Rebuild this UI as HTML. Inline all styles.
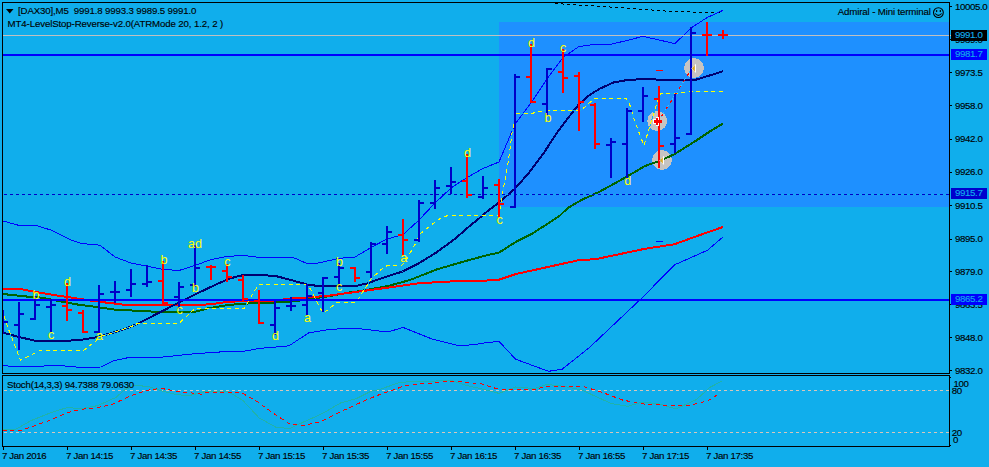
<!DOCTYPE html>
<html><head><meta charset="utf-8"><title>DAX30 M5</title>
<style>
html,body{margin:0;padding:0;background:#10aeec;}
#c{position:relative;width:989px;height:467px;overflow:hidden;background:#10aeec;font-family:"Liberation Sans",sans-serif;}
.t{position:absolute;font-size:9.7px;line-height:10px;color:#000;white-space:nowrap;-webkit-text-stroke:0.13px currentColor;}
.y{position:absolute;font-size:12.6px;line-height:14px;color:#ffff00;white-space:nowrap;}
</style></head><body><div id="c">
<svg width="989" height="467" viewBox="0 0 989 467" shape-rendering="crispEdges" style="position:absolute;left:0;top:0">
<rect x="0" y="0" width="989" height="467" fill="#10aeec"/>
<rect x="499" y="22" width="450" height="185" fill="#1e90ff"/>
<polyline points="555,3.5 602.7,6.5 652,10 668.5,11.3 701.4,12.4 720,12.6" fill="none" stroke="#000" stroke-width="1" stroke-dasharray="3 3"/>
<circle cx="694" cy="68" r="9.9" fill="#c6c4c2"/>
<circle cx="657.2" cy="121" r="9.9" fill="#c6c4c2"/>
<circle cx="662" cy="160" r="9.9" fill="#c6c4c2"/>
<polyline points="3,221 19,225.4 36,225.4 52,230.4 70,239.7 82,243.6 100,245.2 115,257 131,263 147,266.3 163,269.3 179,270.5 195,265.5 211,259.5 227,256.5 243,255.3 256,257 292,257 307,263.5 315,263.5 323,262 339,258.3 355,257 371,247.5 387,239 403,234.7 419,220 435,203 451,188 467,177.5 483,168.5 499,162 515,124 531,103 547,79 563,57.5 579,46.5 595,44.3 611,44.2 627,40.5 643,36.3 659,40 675,43.6 691,28 707,17.6 723,10.3" fill="none" stroke="#0000ff" stroke-width="1" />
<polyline points="3,365.5 19,367 35,366.3 59,365.5 79.5,367.3 100.7,367 113.7,360.7 128,357.7 147,357.5 163,357 195,353.7 227,351.5 240,352 259,348.5 289,345.8 308.5,333 330.5,329.3 355,328.2 388,332 403,327.4 432,339 459,345.8 476,344.4 480,343.4 499,341.3 515.6,359.2 548.5,371.3 562,369.3 589.6,347.4 617,321.5 641.7,298.2 674.6,264.8 707.5,250.3 722.6,237.3" fill="none" stroke="#0000ff" stroke-width="1" />
<polyline points="3,294 13.7,295.2 27.4,296.6 41,297.6 60.3,301.4 76.7,304.4 96,306.9 116.5,309.9 128,310.3 147.4,311.4 165,312 194,312 207.7,308.4 227,305.2 243,303.7 274,302.6 295,301.2 330,296 349.6,292.5 360.6,291 388,286 410,280 436.7,269.4 469.6,259.9 488,255 499.2,252.5 515.6,242 532,233.8 559.5,216 567.7,208 581.4,200 593.7,194.5 600,191.4 613.7,184 627.4,176.3 645,166 659,161.2 674,154.4 696,140.7 709.6,131.6 723,123.5" fill="none" stroke="#006400" stroke-width="2" />
<polyline points="3,288.8 19.2,288.8 34.3,291.8 54.8,295.2 76.7,298.4 90,300.5 101.4,302 120,304.3 128,305 194,305.2 210,304.3 227,302 243,301 260,301 275,300.5 292,298.5 308.5,297.4 327.7,295.8 349.6,292.8 368,290.3 393.5,286.9 418,283.3 450,281.5 480,281 499.2,279.6 515.6,274.1 580,259.9 595,259.3 644.5,248.9 674.6,244.2 700,235 723,227" fill="none" stroke="#ff0000" stroke-width="2" />
<polyline points="3,332.6 19,337 35.6,340.8 67,340.8 83,339.5 96,337.4 112,333 128,327.8 136.4,324.4 179,302.5 195,294.5 216,284.5 229.6,278.6 240.6,275.6 248,274.8 260,275 275.6,276 291,280 307,284.5 316.7,285.8 356.5,285.8 368,283.2 376.4,280 402.5,271.5 417.6,264 436.7,252.3 456,238 469.6,226 482,216 488,210.7 499,202.5 514,189.5 528,174 544.4,152 556.7,133.2 569,116.8 578.7,104.4 589.6,94.9 600,88.6 613.7,82.4 627.4,80 645,79 660,79.7 696,79.7 709.6,75.5 723,71.2" fill="none" stroke="#000070" stroke-width="2" />
<polyline points="4,316 8,328 20.5,360.4 39.7,350.8 83.6,350.4 96,340.8 99,337 112,333 128,327.8 136.4,324.4 137,323.5 179,323.5 194.7,308.7 244,308.5 258.5,284.6 307,284.4 311,290 314.7,297 319.5,307.4 323.6,313 329,308.8 337,302.6 356.5,302.2 360.6,295 368,284 371,279 380.6,270 387.4,265.3 402.5,265 408,257 414.8,244.8 420.3,233.8 434,222.9 439.5,219 447.7,215.5 498.5,215.2 500.3,208 501.5,202 503,190.6 506.5,172.7 509.5,153 512,133 514,123.6 516.3,113.4 532,113.4 540,111.3 545.8,110.6 581.4,110 593.7,99 600,98.4 626,98.6 629.5,103.9 635,122 643.9,145.4 648,132.3 651.4,121 657.6,101 661,93.3 685,92.9 687.7,91.5 722.7,91.5" fill="none" stroke="#10aeec" stroke-width="1" />
<polyline points="4,316 8,328 20.5,360.4 39.7,350.8 83.6,350.4 96,340.8 99,337 112,333 128,327.8 136.4,324.4 137,323.5 179,323.5 194.7,308.7 244,308.5 258.5,284.6 307,284.4 311,290 314.7,297 319.5,307.4 323.6,313 329,308.8 337,302.6 356.5,302.2 360.6,295 368,284 371,279 380.6,270 387.4,265.3 402.5,265 408,257 414.8,244.8 420.3,233.8 434,222.9 439.5,219 447.7,215.5 498.5,215.2 500.3,208 501.5,202 503,190.6 506.5,172.7 509.5,153 512,133 514,123.6 516.3,113.4 532,113.4 540,111.3 545.8,110.6 581.4,110 593.7,99 600,98.4 626,98.6 629.5,103.9 635,122 643.9,145.4 648,132.3 651.4,121 657.6,101 661,93.3 685,92.9 687.7,91.5 722.7,91.5" fill="none" stroke="#ffff00" stroke-width="1" stroke-dasharray="4 3.5"/>
<line x1="661" y1="117" x2="690" y2="71.5" stroke="#30c0ff" stroke-width="1" stroke-dasharray="2 2"/>
<line x1="661.7" y1="116" x2="690" y2="71.5" stroke="#ff0000" stroke-width="1" stroke-dasharray="3 5"/>
<rect x="3" y="35" width="949" height="1" fill="#c0c0c0"/>
<rect x="3" y="54" width="946" height="2" fill="#0000ff"/>
<rect x="3" y="299" width="946" height="2" fill="#0000ff"/>
<line x1="3" y1="194.5" x2="949" y2="194.5" stroke="#10aeec" stroke-width="1"/>
<line x1="4" y1="194.5" x2="949" y2="194.5" stroke="#0000c8" stroke-width="1" stroke-dasharray="3 3"/>
<g fill="#0000c8"><rect x="3" y="310" width="1" height="24"/><rect x="4" y="321" width="4" height="2"/></g>
<g fill="#0000c8"><rect x="18" y="302" width="2" height="48"/><rect x="14" y="324" width="4" height="2"/><rect x="20" y="313" width="4" height="2"/></g>
<g fill="#0000c8"><rect x="34" y="296" width="2" height="24"/><rect x="30" y="318" width="4" height="2"/><rect x="36" y="304" width="4" height="2"/></g>
<g fill="#0000c8"><rect x="50" y="299" width="2" height="33"/><rect x="46" y="306" width="4" height="2"/><rect x="52" y="304" width="4" height="2"/></g>
<g fill="#ff0000"><rect x="66" y="283" width="2" height="38"/><rect x="62" y="305" width="4" height="2"/><rect x="68" y="309" width="4" height="2"/></g>
<g fill="#ff0000"><rect x="82" y="310" width="2" height="23"/><rect x="78" y="312" width="4" height="2"/><rect x="84" y="331" width="4" height="2"/></g>
<g fill="#0000c8"><rect x="98" y="285" width="2" height="48"/><rect x="94" y="331" width="4" height="2"/><rect x="100" y="293" width="4" height="2"/></g>
<g fill="#0000c8"><rect x="114" y="281" width="2" height="22"/><rect x="110" y="291" width="4" height="2"/><rect x="116" y="291" width="4" height="2"/></g>
<g fill="#0000c8"><rect x="130" y="269" width="2" height="28"/><rect x="126" y="289" width="4" height="2"/><rect x="132" y="283" width="4" height="2"/></g>
<g fill="#0000c8"><rect x="146" y="265" width="2" height="22"/><rect x="142" y="283" width="4" height="2"/><rect x="148" y="281" width="4" height="2"/></g>
<g fill="#ff0000"><rect x="162" y="261" width="2" height="45"/><rect x="158" y="280" width="4" height="2"/><rect x="164" y="302" width="4" height="2"/></g>
<g fill="#0000c8"><rect x="178" y="282" width="2" height="27"/><rect x="174" y="296" width="4" height="2"/><rect x="180" y="286" width="4" height="2"/></g>
<g fill="#0000c8"><rect x="194" y="245" width="2" height="42"/><rect x="190" y="284" width="4" height="2"/><rect x="196" y="267" width="4" height="2"/></g>
<g fill="#ff0000"><rect x="210" y="265" width="2" height="15"/><rect x="206" y="266" width="4" height="2"/><rect x="212" y="266" width="4" height="2"/></g>
<g fill="#ff0000"><rect x="226" y="264" width="2" height="18"/><rect x="222" y="270" width="4" height="2"/><rect x="228" y="276" width="4" height="2"/></g>
<g fill="#ff0000"><rect x="242" y="275" width="2" height="26"/><rect x="238" y="279" width="4" height="2"/><rect x="244" y="298" width="4" height="2"/></g>
<g fill="#ff0000"><rect x="258" y="290" width="2" height="34"/><rect x="254" y="300" width="4" height="2"/><rect x="260" y="322" width="4" height="2"/></g>
<g fill="#0000c8"><rect x="274" y="301" width="2" height="34"/><rect x="270" y="324" width="4" height="2"/><rect x="276" y="307" width="4" height="2"/></g>
<g fill="#0000c8"><rect x="290" y="297" width="2" height="14"/><rect x="286" y="305" width="4" height="2"/><rect x="292" y="305" width="4" height="2"/></g>
<g fill="#0000c8"><rect x="306" y="284" width="2" height="32"/><rect x="302" y="304" width="4" height="2"/><rect x="308" y="295" width="4" height="2"/></g>
<g fill="#0000c8"><rect x="322" y="277" width="2" height="35"/><rect x="318" y="292" width="4" height="2"/><rect x="324" y="277" width="4" height="2"/></g>
<g fill="#0000c8"><rect x="338" y="263" width="2" height="22"/><rect x="334" y="276" width="4" height="2"/><rect x="340" y="267" width="4" height="2"/></g>
<g fill="#ff0000"><rect x="354" y="267" width="2" height="15"/><rect x="350" y="267" width="4" height="2"/><rect x="356" y="277" width="4" height="2"/></g>
<g fill="#0000c8"><rect x="370" y="242" width="2" height="36"/><rect x="366" y="271" width="4" height="2"/><rect x="372" y="243" width="4" height="2"/></g>
<g fill="#0000c8"><rect x="386" y="226" width="2" height="28"/><rect x="382" y="243" width="4" height="2"/><rect x="388" y="231" width="4" height="2"/></g>
<g fill="#ff0000"><rect x="402" y="219" width="2" height="37"/><rect x="398" y="234" width="4" height="2"/><rect x="404" y="239" width="4" height="2"/></g>
<g fill="#0000c8"><rect x="418" y="200" width="2" height="42"/><rect x="414" y="239" width="4" height="2"/><rect x="420" y="202" width="4" height="2"/></g>
<g fill="#0000c8"><rect x="434" y="180" width="2" height="29"/><rect x="430" y="202" width="4" height="2"/><rect x="436" y="187" width="4" height="2"/></g>
<g fill="#0000c8"><rect x="450" y="167" width="2" height="27"/><rect x="446" y="185" width="4" height="2"/><rect x="452" y="181" width="4" height="2"/></g>
<g fill="#ff0000"><rect x="466" y="154" width="2" height="44"/><rect x="462" y="180" width="4" height="2"/><rect x="468" y="194" width="4" height="2"/></g>
<g fill="#0000c8"><rect x="482" y="176" width="2" height="23"/><rect x="478" y="196" width="4" height="2"/><rect x="484" y="187" width="4" height="2"/></g>
<g fill="#ff0000"><rect x="498" y="179" width="2" height="39"/><rect x="494" y="184" width="4" height="2"/><rect x="500" y="203" width="4" height="2"/></g>
<g fill="#0000c8"><rect x="514" y="74" width="2" height="134"/><rect x="510" y="206" width="4" height="2"/><rect x="516" y="76" width="4" height="2"/></g>
<g fill="#ff0000"><rect x="530" y="44" width="2" height="59"/><rect x="526" y="76" width="4" height="2"/><rect x="532" y="101" width="4" height="2"/></g>
<g fill="#0000c8"><rect x="546" y="68" width="2" height="47"/><rect x="542" y="103" width="4" height="2"/><rect x="548" y="68" width="4" height="2"/></g>
<g fill="#ff0000"><rect x="562" y="49" width="2" height="44"/><rect x="558" y="71" width="4" height="2"/><rect x="564" y="77" width="4" height="2"/></g>
<g fill="#ff0000"><rect x="578" y="72" width="2" height="59"/><rect x="574" y="75" width="4" height="2"/><rect x="580" y="101" width="4" height="2"/></g>
<g fill="#ff0000"><rect x="594" y="103" width="2" height="46"/><rect x="590" y="104" width="4" height="2"/><rect x="596" y="143" width="4" height="2"/></g>
<g fill="#0000c8"><rect x="610" y="138" width="2" height="40"/><rect x="606" y="144" width="4" height="2"/><rect x="612" y="141" width="4" height="2"/></g>
<g fill="#0000c8"><rect x="626" y="108" width="2" height="71"/><rect x="622" y="143" width="4" height="2"/><rect x="628" y="110" width="4" height="2"/></g>
<g fill="#0000c8"><rect x="642" y="87" width="2" height="35"/><rect x="638" y="110" width="4" height="2"/><rect x="644" y="95" width="4" height="2"/></g>
<g fill="#ff0000"><rect x="658" y="86" width="2" height="82"/><rect x="654" y="98" width="4" height="2"/><rect x="660" y="145" width="4" height="2"/></g>
<g fill="#0000c8"><rect x="674" y="94" width="2" height="59"/><rect x="670" y="143" width="4" height="2"/><rect x="676" y="137" width="4" height="2"/></g>
<g fill="#0000c8"><rect x="690" y="27" width="2" height="108"/><rect x="686" y="133" width="4" height="2"/><rect x="692" y="32" width="4" height="2"/></g>
<g fill="#ff0000"><rect x="706" y="22" width="2" height="34"/><rect x="702" y="34" width="4" height="2"/><rect x="708" y="34" width="4" height="2"/></g>
<g fill="#ff0000"><rect x="722" y="30" width="2" height="9"/><rect x="718" y="34" width="4" height="2"/><rect x="724" y="34" width="4" height="2"/></g>
<rect x="656" y="70" width="7" height="1" fill="#ff0000"/>
<rect x="656" y="241" width="7" height="1" fill="#0000ff"/>
<polygon points="691.3,68.4 696,63.8 696,73" fill="#fff" shape-rendering="auto"/>
<polygon points="692,68.4 694.8,65 694.8,71.8" fill="#daa520" shape-rendering="auto"/>
<polygon points="659.3,160.4 664,155.8 664,165" fill="#fff" shape-rendering="auto"/>
<polygon points="660,160.4 662.8,157 662.8,163.8" fill="#daa520" shape-rendering="auto"/>
<path d="M652.7 119 h3 v-2 h3 v9 h-3 v-2.5 h-3 z" fill="#fff"/>
<rect x="654" y="120" width="8" height="2.5" fill="#f00"/><rect x="656" y="118" width="2" height="7" fill="#f00"/>
<line x1="4" y1="390.5" x2="949" y2="390.5" stroke="#d6c6ba" stroke-width="1" stroke-dasharray="3 3"/>
<line x1="4" y1="432.5" x2="949" y2="432.5" stroke="#d6c6ba" stroke-width="1" stroke-dasharray="3 3"/>
<polyline points="3,430 16.3,429 30.5,420.8 50.9,412.7 67,407.6 81.4,408.6 97.7,405.6 116,397.4 124,390.3 134.3,385.2 148.5,386.6 162.8,391.3 177,394.8 190,395.4 206.3,391.3 228.7,392 242.9,400.5 259,417.8 275.5,427 289.7,428.6 304,421.8 322,413.7 340.6,403 356.8,398.4 371,391.3 380,389.3 400.3,382.2 451.2,380.5 465.5,385.2 485.8,389.9 499,393.4 515.6,387 534.8,388.5 547,384.4 563,386.2 581.4,389.9 611.5,403.6 628,406.3 641.7,402.2 658,403.6 676,409 696.5,399.5 710.2,387.2 722.5,380.8" fill="none" stroke="#20b2aa" stroke-width="1" />
<polyline points="3,430.6 22.4,430 32.6,426.5 50.9,419.8 67,412.7 81.4,409.2 93.6,408.2 112,404.6 130.2,396 146.5,390.3 160.7,388.3 177,391.3 200,394 202.2,394 206.3,392.3 240.9,392.3 257,401.5 275.5,414.7 289.7,423.9 304,425.3 320,421.8 340.6,411.7 365,400.5 380,394.4 392.2,390.3 406.4,385.2 441,382.2 453.2,381.2 481.7,383.8 494,387.9 502,389.5 536.7,389.2 544.8,386.3 582.8,386.3 600.6,391.8 622.5,400 641.7,403.9 671.9,405.5 691,405 707.5,400.9 719.8,393.5" fill="none" stroke="#ff0000" stroke-width="1" stroke-dasharray="4 3.5"/>
<g fill="#000">
<rect x="2" y="2" width="948" height="1"/>
<rect x="2" y="2" width="1" height="372"/>
<rect x="2" y="373" width="948" height="1"/>
<rect x="2" y="375" width="948" height="1"/>
<rect x="2" y="375" width="1" height="72"/>
<rect x="2" y="446" width="948" height="1"/>
<rect x="949" y="2" width="1" height="372"/>
<rect x="949" y="375" width="1" height="72"/>
<rect x="950" y="6" width="2" height="1"/>
<rect x="950" y="39" width="2" height="1"/>
<rect x="950" y="72" width="2" height="1"/>
<rect x="950" y="105" width="2" height="1"/>
<rect x="950" y="139" width="2" height="1"/>
<rect x="950" y="172" width="2" height="1"/>
<rect x="950" y="205" width="2" height="1"/>
<rect x="950" y="239" width="2" height="1"/>
<rect x="950" y="271" width="2" height="1"/>
<rect x="950" y="304" width="2" height="1"/>
<rect x="950" y="337" width="2" height="1"/>
<rect x="950" y="370" width="2" height="1"/>
<rect x="950" y="377" width="1" height="1"/>
<rect x="950" y="445" width="1" height="1"/>
<rect x="3" y="447" width="1" height="3"/>
<rect x="67" y="447" width="1" height="3"/>
<rect x="131" y="447" width="1" height="3"/>
<rect x="195" y="447" width="1" height="3"/>
<rect x="259" y="447" width="1" height="3"/>
<rect x="323" y="447" width="1" height="3"/>
<rect x="387" y="447" width="1" height="3"/>
<rect x="451" y="447" width="1" height="3"/>
<rect x="515" y="447" width="1" height="3"/>
<rect x="579" y="447" width="1" height="3"/>
<rect x="643" y="447" width="1" height="3"/>
<rect x="707" y="447" width="1" height="3"/>
</g>
<rect x="951" y="30" width="36" height="11" fill="#000"/>
<rect x="951" y="49" width="36" height="11" fill="#0000ff"/>
<rect x="951" y="188" width="36" height="11" fill="#0000cd"/>
<rect x="951" y="294" width="36" height="11" fill="#0000ff"/>
<polygon points="6,9 13.5,9 9.75,13.5" fill="#000" shape-rendering="auto"/>
<g shape-rendering="auto" fill="none" stroke="#000" stroke-width="1.1"><circle cx="938.4" cy="12.6" r="4.9"/><path d="M935.2 13.5 Q938.4 17.3 941.6 13.5"/></g><ellipse cx="936.6" cy="11.1" rx="0.75" ry="1.15" fill="#000" shape-rendering="auto"/><ellipse cx="940.3" cy="11.1" rx="0.75" ry="1.15" fill="#000" shape-rendering="auto"/>
</svg>
<div class="t" style="left:18px;top:6px;letter-spacing:-0.152px;">[DAX30],M5&nbsp; 9991.8 9993.3 9989.5 9991.0</div>
<div class="t" style="left:7.6px;top:19px;letter-spacing:-0.131px;">MT4-LevelStop-Reverse-v2.0(ATRMode 20, 1.2, 2 )</div>
<div class="t" style="left:837.8px;top:7.4px;letter-spacing:-0.146px;">Admiral - Mini terminal</div>
<div class="t" style="left:7px;top:380.3px;letter-spacing:-0.227px;">Stoch(14,3,3) 94.7388 79.0630</div>
<div class="t" style="left:955px;top:1.9px;letter-spacing:-0.390px;">10005.0</div>
<div class="t" style="left:955px;top:34.9px;letter-spacing:-0.373px;">9989.0</div>
<div class="t" style="left:955px;top:68.2px;letter-spacing:-0.373px;">9973.5</div>
<div class="t" style="left:955px;top:100.9px;letter-spacing:-0.373px;">9958.0</div>
<div class="t" style="left:955px;top:134.4px;letter-spacing:-0.373px;">9942.0</div>
<div class="t" style="left:955px;top:167.4px;letter-spacing:-0.373px;">9926.0</div>
<div class="t" style="left:955px;top:200.9px;letter-spacing:-0.373px;">9910.5</div>
<div class="t" style="left:955px;top:234.4px;letter-spacing:-0.373px;">9895.0</div>
<div class="t" style="left:955px;top:267.1px;letter-spacing:-0.373px;">9879.0</div>
<div class="t" style="left:955px;top:299.9px;letter-spacing:-0.373px;">9863.5</div>
<div class="t" style="left:955px;top:333.1px;letter-spacing:-0.373px;">9848.0</div>
<div class="t" style="left:955px;top:365.9px;letter-spacing:-0.373px;">9832.0</div>
<div class="t" style="left:953.5px;top:378.7px;letter-spacing:-0.391px;">100</div>
<div class="t" style="left:951.8px;top:386px;letter-spacing:-0.391px;">80</div>
<div class="t" style="left:951.8px;top:428px;letter-spacing:-0.391px;">20</div>
<div class="t" style="left:953px;top:435.3px;letter-spacing:-0.391px;">0</div>
<div class="t" style="left:951px;top:30px;width:36px;height:11px;background:#000;color:#10aeec"><span style="position:absolute;left:4px;top:-0.1px;letter-spacing:-0.373px">9991.0</span></div>
<div class="t" style="left:951px;top:49px;width:36px;height:11px;background:#0000ff;color:#10aeec"><span style="position:absolute;left:4px;top:-0.1px;letter-spacing:-0.373px">9981.7</span></div>
<div class="t" style="left:951px;top:188px;width:36px;height:11px;background:#0000cd;color:#10aeec"><span style="position:absolute;left:4px;top:-0.1px;letter-spacing:-0.373px">9915.7</span></div>
<div class="t" style="left:951px;top:294px;width:36px;height:11px;background:#0000ff;color:#10aeec"><span style="position:absolute;left:4px;top:-0.1px;letter-spacing:-0.373px">9865.2</span></div>
<div class="t" style="left:2px;top:451.3px;letter-spacing:-0.365px;">7 Jan 2016</div>
<div class="t" style="left:66px;top:451.3px;letter-spacing:-0.331px;">7 Jan 14:15</div>
<div class="t" style="left:130px;top:451.3px;letter-spacing:-0.331px;">7 Jan 14:35</div>
<div class="t" style="left:194px;top:451.3px;letter-spacing:-0.331px;">7 Jan 14:55</div>
<div class="t" style="left:258px;top:451.3px;letter-spacing:-0.331px;">7 Jan 15:15</div>
<div class="t" style="left:322px;top:451.3px;letter-spacing:-0.331px;">7 Jan 15:35</div>
<div class="t" style="left:386px;top:451.3px;letter-spacing:-0.331px;">7 Jan 15:55</div>
<div class="t" style="left:450px;top:451.3px;letter-spacing:-0.331px;">7 Jan 16:15</div>
<div class="t" style="left:514px;top:451.3px;letter-spacing:-0.331px;">7 Jan 16:35</div>
<div class="t" style="left:578px;top:451.3px;letter-spacing:-0.331px;">7 Jan 16:55</div>
<div class="t" style="left:642px;top:451.3px;letter-spacing:-0.331px;">7 Jan 17:15</div>
<div class="t" style="left:706px;top:451.3px;letter-spacing:-0.331px;">7 Jan 17:35</div>
<div class="y" style="left:32.5px;top:288px">b</div>
<div class="y" style="left:48.1px;top:328px">c</div>
<div class="y" style="left:63.9px;top:274.6px">d</div>
<div class="y" style="left:96.1px;top:329px">a</div>
<div class="y" style="left:160.5px;top:252.5px">b</div>
<div class="y" style="left:176.4px;top:303px">c</div>
<div class="y" style="left:188px;top:237.2px">ad</div>
<div class="y" style="left:192.1px;top:281.3px">b</div>
<div class="y" style="left:224.3px;top:255.3px">c</div>
<div class="y" style="left:272.1px;top:329.3px">d</div>
<div class="y" style="left:303.9px;top:310.8px">a</div>
<div class="y" style="left:336.1px;top:254.8px">b</div>
<div class="y" style="left:336.1px;top:280px">c</div>
<div class="y" style="left:400.3px;top:251px">a</div>
<div class="y" style="left:464px;top:145.7px">d</div>
<div class="y" style="left:496.4px;top:212.7px">c</div>
<div class="y" style="left:528.1px;top:35.6px">d</div>
<div class="y" style="left:544.5px;top:110.6px">b</div>
<div class="y" style="left:560.1px;top:41px">c</div>
<div class="y" style="left:624.2px;top:174px">d</div>
</div></body></html>
